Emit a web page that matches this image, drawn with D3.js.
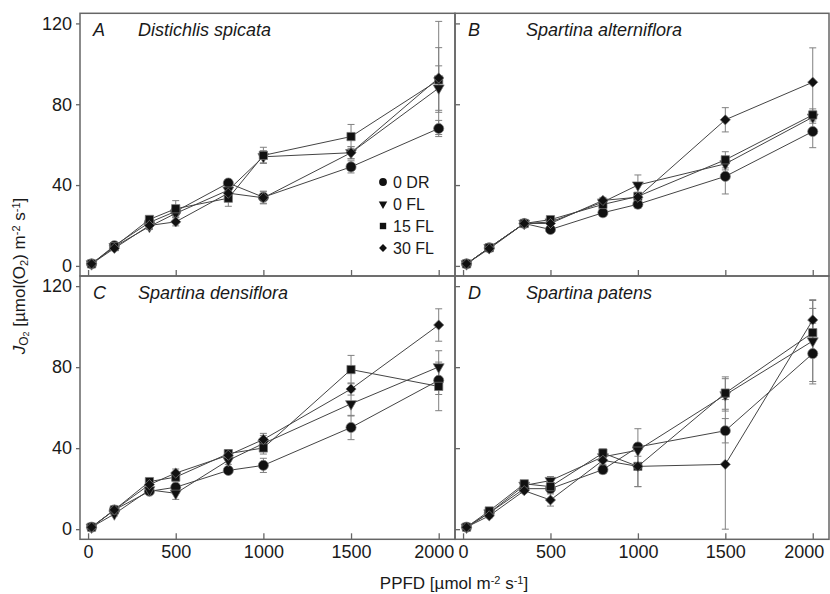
<!DOCTYPE html>
<html>
<head>
<meta charset="utf-8">
<script src="https://cdn.jsdelivr.net/npm/d3@7"></script>
<style>
  body { margin: 0; background: #fff; }
  svg { display: block; font-family: "Liberation Sans", Arial, sans-serif; }
</style>
</head>
<body>
<div id="chart"></div>
<script>
const PPFD = [20, 150, 350, 500, 800, 1000, 1500, 2000];
const TREATMENTS = ['0 DR', '0 FL', '15 FL', '30 FL'];
const LETTERS = ['A', 'B', 'C', 'D'];
const SPECIES = ['Distichlis spicata', 'Spartina alterniflora', 'Spartina densiflora', 'Spartina patens'];
const X_TICKS = [0, 500, 1000, 1500, 2000];
const Y_TICKS = [0, 40, 80, 120];

const MEANS_A = [
  [1, 10, 21.5, 27, 41, 34, 49, 68],
  [1, 9.5, 19.5, 26, 37.5, 54, 56, 88],
  [1, 9.5, 23, 28.3, 33.5, 54.7, 64, 92],
  [1, 8.7, 20, 21.8, 36, 33.7, 56, 93]
];
const ERR_A = [
  [0.5, 1, 1, 2, 1.5, 3, 3, 4],
  [0.5, 1, 1.5, 2, 2, 3, 3, 11],
  [0.5, 1, 1.5, 4, 4, 4, 6, 16],
  [0.5, 1, 1.5, 2, 2, 3, 3, 28]
];
const MEANS_B = [
  [1, 9, 21, 18, 26.3, 30.5, 44.3, 66.5],
  [1, 9, 21, 21.7, 31.6, 40, 50.5, 73.6],
  [1, 9, 21, 22.9, 30.4, 34.4, 52.5, 74.7],
  [1, 8.5, 21, 21, 32.4, 34, 72.3, 90.9]
];
const ERR_B = [
  [0.5, 1, 1, 1.5, 1.5, 2, 8.7, 8],
  [0.5, 1, 1, 1.5, 1.5, 5, 3, 3],
  [0.5, 1, 1, 1.5, 1.5, 2, 4, 3],
  [0.5, 1, 1, 1.5, 1.5, 2, 6, 17]
];
const MEANS_C = [
  [1, 9.5, 18.7, 20.7, 29, 31.5, 50.2, 73.5],
  [1, 7.5, 19.4, 17.7, 34, 42.3, 61.9, 80.1],
  [1, 9.5, 23.5, 25.7, 37.3, 40.1, 78.8, 70.5],
  [1, 9.5, 22, 27.7, 36.5, 44.3, 69.2, 100.8]
];
const ERR_C = [
  [0.5, 1, 1, 2, 1.5, 3.5, 6, 7],
  [0.5, 1, 1, 3, 2, 4, 6, 8],
  [0.5, 1, 1, 2, 2, 3, 7, 12],
  [0.5, 1, 1, 2, 2, 3, 3, 8]
];
const MEANS_D = [
  [1, 8, 20, 20, 29.4, 40.6, 48.6, 86.7],
  [1, 8, 21.6, 24, 35.7, 39, 66.3, 92.9],
  [1, 9, 22.4, 21, 37.6, 31, 67.2, 97],
  [1, 6.6, 19, 14.4, 34, 31, 32, 103.3]
];
const ERR_D = [
  [0.5, 1, 1, 2, 2, 9, 6, 15],
  [0.5, 1, 1, 2, 2, 3, 8, 20],
  [0.5, 1, 1, 2, 2, 10, 8, 12],
  [0.5, 1, 1, 3, 2, 10, 32, 10]
];

function app() {
  const WIDTH = 830;
  const HEIGHT = 594;
  const COLS = [[80, 455], [455, 829]];
  const ROWS = [[13.3, 276], [276, 539.3]];
  const AXIS_COLOR = '#666';
  const TEXT_COLOR = '#1a1a1a';

  const means = [MEANS_A, MEANS_B, MEANS_C, MEANS_D];
  const errs = [ERR_A, ERR_B, ERR_C, ERR_D];

  const symbols = [
    { type: d3.symbolCircle, size: 80, rotate: 0 },
    { type: d3.symbolTriangle, size: 52, rotate: 180 },
    { type: d3.symbolSquare, size: 68, rotate: 0 },
    { type: d3.symbolSquare, size: 52, rotate: 45 }
  ];

  const svg = d3.select('#chart')
    .append('svg')
    .attr('width', WIDTH)
    .attr('height', HEIGHT);

  LETTERS.forEach((letter, p) => {
    const col = p % 2;
    const row = Math.floor(p / 2);
    const [x0, x1] = COLS[col];
    const [y0, y1] = ROWS[row];

    const x = d3.scaleLinear().domain([-46, 2093]).range([x0, x1]);
    const y = d3.scaleLinear().domain([-5, 125]).range([y1, y0]);

    const g = svg.append('g');

    let xAxis = d3.axisBottom(x)
      .tickValues(X_TICKS)
      .tickSizeInner(-6)
      .tickSizeOuter(0)
      .tickPadding(6)
      .tickFormat(d3.format('d'));
    if (row === 0) xAxis.tickFormat('');

    const gx = g.append('g')
      .attr('transform', `translate(0,${y1})`)
      .call(xAxis);

    // last label squeezed left, as in the original
    gx.selectAll('.tick text')
      .filter((d) => d === 2000)
      .attr('dx', col === 0 ? -5 : -9);

    let yAxis = d3.axisLeft(y)
      .tickValues(Y_TICKS)
      .tickSizeOuter(0);
    if (col === 0) {
      yAxis.tickSizeInner(4).tickPadding(4);
    } else {
      yAxis.tickSizeInner(-5).tickFormat('');
    }

    const gy = g.append('g')
      .attr('transform', `translate(${x0},0)`)
      .call(yAxis);

    [gx, gy].forEach((ax) => {
      ax.select('.domain').remove();
      ax.selectAll('line').attr('stroke', AXIS_COLOR).attr('stroke-width', 1.3);
      ax.selectAll('text')
        .attr('fill', TEXT_COLOR)
        .style('font-size', '18px');
    });

    g.append('rect')
      .attr('x', x0)
      .attr('y', y0)
      .attr('width', x1 - x0)
      .attr('height', y1 - y0)
      .attr('fill', 'none')
      .attr('stroke', AXIS_COLOR)
      .attr('stroke-width', 1.5);

    g.append('text')
      .attr('x', x0 + 13)
      .attr('y', y0 + 22.5)
      .attr('fill', TEXT_COLOR)
      .style('font-size', '18px')
      .style('font-style', 'italic')
      .text(letter);

    g.append('text')
      .attr('x', x0 + (col === 0 ? 58 : 71))
      .attr('y', y0 + 22.5)
      .attr('fill', TEXT_COLOR)
      .style('font-size', '18px')
      .style('font-style', 'italic')
      .text(SPECIES[p]);

    TREATMENTS.forEach((t, s) => {
      const pts = PPFD.map((v, i) => ({ x: v, m: means[p][s][i], e: errs[p][s][i] }));

      const bars = g.append('g')
        .attr('stroke', '#808080')
        .attr('stroke-width', 1);

      bars.selectAll('line.v')
        .data(pts)
        .enter()
        .append('line')
        .attr('x1', (d) => x(d.x))
        .attr('x2', (d) => x(d.x))
        .attr('y1', (d) => y(d.m - d.e))
        .attr('y2', (d) => y(d.m + d.e));

      [1, -1].forEach((sign) => {
        bars.selectAll(null)
          .data(pts)
          .enter()
          .append('line')
          .attr('x1', (d) => x(d.x) - 3.5)
          .attr('x2', (d) => x(d.x) + 3.5)
          .attr('y1', (d) => y(d.m + sign * d.e))
          .attr('y2', (d) => y(d.m + sign * d.e));
      });

      g.append('path')
        .datum(pts)
        .attr('fill', 'none')
        .attr('stroke', '#444')
        .attr('stroke-width', 1)
        .attr('d', d3.line().x((d) => x(d.x)).y((d) => y(d.m)));
    });

    TREATMENTS.forEach((t, s) => {
      const sym = symbols[s];
      g.selectAll(null)
        .data(PPFD.map((v, i) => ({ x: v, m: means[p][s][i] })))
        .enter()
        .append('path')
        .attr('d', d3.symbol().type(sym.type).size(sym.size))
        .attr('transform', (d) => `translate(${x(d.x)},${y(d.m)}) rotate(${sym.rotate})`)
        .attr('fill', '#111')
        .attr('stroke', '#777')
        .attr('stroke-width', 0.7);
    });
  });

  const legend = svg.append('g');
  TREATMENTS.forEach((t, s) => {
    const sym = symbols[s];
    const ly = 182 + s * 22;
    legend.append('path')
      .attr('d', d3.symbol().type(sym.type).size(sym.size * 0.6))
      .attr('transform', `translate(383,${ly}) rotate(${sym.rotate})`)
      .attr('fill', '#111');
    legend.append('text')
      .attr('x', 393)
      .attr('y', ly)
      .attr('dy', '0.36em')
      .attr('fill', TEXT_COLOR)
      .style('font-size', '16px')
      .text(t);
  });

  const ylab = svg.append('text')
    .attr('transform', 'translate(25,276) rotate(-90)')
    .attr('text-anchor', 'middle')
    .attr('fill', TEXT_COLOR)
    .style('font-size', '17px');
  ylab.append('tspan').style('font-style', 'italic').text('J');
  ylab.append('tspan').attr('baseline-shift', '-25%').style('font-size', '12px').text('O');
  ylab.append('tspan').attr('baseline-shift', '-40%').style('font-size', '9px').text('2');
  ylab.append('tspan').text(' [µmol(O');
  ylab.append('tspan').attr('baseline-shift', '-25%').style('font-size', '11px').text('2');
  ylab.append('tspan').text(') m');
  ylab.append('tspan').attr('baseline-shift', '45%').style('font-size', '11px').text('-2');
  ylab.append('tspan').text(' s');
  ylab.append('tspan').attr('baseline-shift', '45%').style('font-size', '11px').text('-1');
  ylab.append('tspan').text(']');

  const xlab = svg.append('text')
    .attr('x', 454)
    .attr('y', 589)
    .attr('text-anchor', 'middle')
    .attr('fill', TEXT_COLOR)
    .style('font-size', '17px');
  xlab.append('tspan').text('PPFD [µmol m');
  xlab.append('tspan').attr('baseline-shift', '45%').style('font-size', '11px').text('-2');
  xlab.append('tspan').text(' s');
  xlab.append('tspan').attr('baseline-shift', '45%').style('font-size', '11px').text('-1');
  xlab.append('tspan').text(']');
}

app();
</script>
</body>
</html>
